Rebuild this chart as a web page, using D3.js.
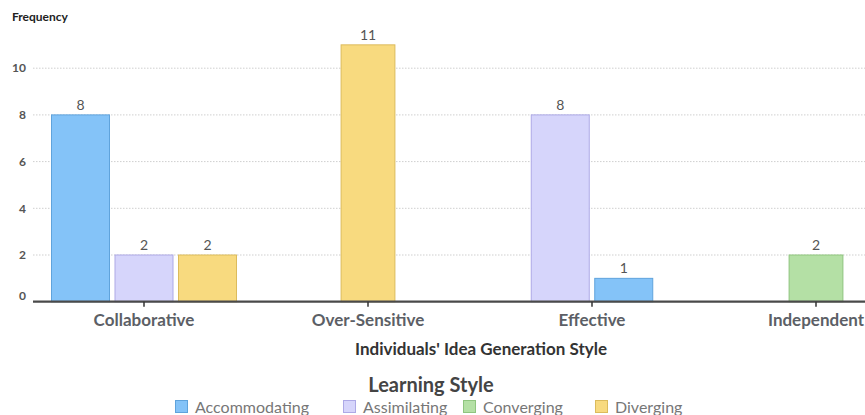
<!DOCTYPE html>
<html>
<head>
<meta charset="utf-8">
<script src="https://cdn.jsdelivr.net/npm/d3@7"></script>
<style>
  html, body { margin: 0; padding: 0; background: #fff; overflow: hidden; }
  svg { display: block; font-family: Lato, "Open Sans", sans-serif; }
</style>
</head>
<body>
<script>
const categories = ["Collaborative", "Over-Sensitive", "Effective", "Independent"];
const seriesNames = ["Accommodating", "Assimilating", "Converging", "Diverging"];
const accommodating = [8, 0, 1, 0];
const assimilating  = [2, 0, 8, 0];
const converging    = [0, 0, 0, 2];
const diverging     = [2, 11, 0, 0];
const yTicks = [0, 2, 4, 6, 8, 10];
const xTitle = "Individuals' Idea Generation Style";
const yTitle = "Frequency";
const legendTitle = "Learning Style";

const seriesValues = [accommodating, assimilating, converging, diverging];
const fills   = ["#84c3f8", "#d6d5fb", "#b4e0a5", "#f8da7f"];
const strokes = ["#5fa3dc", "#ada9e6", "#8fc57f", "#dcbb5c"];

const W = 865, H = 415;
const svg = d3.select("body").append("svg").attr("width", W).attr("height", H);

const x = d3.scaleBand().domain(categories).range([32, 928]).padding(0);
const y = d3.scaleLinear().domain([0, 12]).range([301.7, 301.7 - 12 * 23.35]);

// gridlines
svg.append("g").selectAll("line").data(yTicks.filter(d => d > 0)).join("line")
  .attr("x1", 33).attr("x2", W)
  .attr("y1", d => y(d)).attr("y2", d => y(d))
  .attr("stroke", "#cfcfcf").attr("stroke-width", 1).attr("stroke-dasharray", "1.5,1.5");

// y tick labels
svg.append("g").selectAll("text").data(yTicks).join("text")
  .attr("x", 26).attr("y", d => d === 0 ? y(d) - 6 : y(d))
  .attr("dy", "0.35em").attr("text-anchor", "end")
  .attr("font-size", 12).attr("font-weight", 700).attr("fill", "#555")
  .text(d => d);

svg.append("text").attr("x", 12).attr("y", 21)
  .attr("font-size", 12).attr("font-weight", 700).attr("fill", "#222").text(yTitle);

// bars
const step = 63.5, gap = 4.5;
categories.forEach((cat, ci) => {
  const items = seriesNames.map((s, si) => ({ s, si, v: seriesValues[si][ci] }))
    .filter(d => d.v > 0);
  items.sort((a, b) => b.v - a.v);
  const n = items.length;
  const c = x(cat) + x.bandwidth() / 2;
  const inner = d3.scaleBand().domain(d3.range(n))
    .range([c - (n * step - gap) / 2, c + (n * step - gap) / 2])
    .paddingInner(gap / step).paddingOuter(0);
  const g = svg.append("g");
  g.selectAll("rect").data(items).join("rect")
    .attr("x", (d, i) => inner(i) + 0.5).attr("width", inner.bandwidth() - 1)
    .attr("y", d => y(d.v)).attr("height", d => y(0) - y(d.v))
    .attr("fill", d => fills[d.si]).attr("stroke", d => strokes[d.si]).attr("stroke-width", 1);
  g.selectAll("text").data(items).join("text")
    .attr("x", (d, i) => inner(i) + inner.bandwidth() / 2).attr("y", d => y(d.v) - 5)
    .attr("text-anchor", "middle").attr("font-size", 14).attr("fill", "#555")
    .text(d => d.v);
});

// x axis
const xAxis = svg.append("g").attr("transform", `translate(0,${y(0)})`)
  .call(d3.axisBottom(x).tickSize(5).tickSizeOuter(0).tickPadding(10));
xAxis.select(".domain").attr("stroke", "#4a4a4a").attr("stroke-width", 2.2)
  .attr("d", `M33,0H${W}`);
xAxis.selectAll(".tick line").attr("stroke", "#333").attr("stroke-width", 1.5);
xAxis.selectAll(".tick text").attr("font-size", 17).attr("font-weight", 700)
  .attr("fill", "#5c5f66").attr("font-family", "Lato, sans-serif").attr("y", 12);

svg.append("text").attr("x", 481).attr("y", 355).attr("text-anchor", "middle")
  .attr("font-size", 17).attr("font-weight", 700).attr("fill", "#333").text(xTitle);

// legend
svg.append("text").attr("x", 431).attr("y", 392).attr("text-anchor", "middle")
  .attr("font-size", 20).attr("font-weight", 700).attr("fill", "#444").text(legendTitle);

const legendX = [175, 343, 463, 595];
const lg = svg.append("g");
seriesNames.forEach((s, i) => {
  const lx = legendX[i];
  lg.append("rect").attr("x", lx + 0.5).attr("y", 400.5).attr("width", 12).attr("height", 12)
    .attr("fill", fills[i]).attr("stroke", strokes[i]);
  lg.append("text").attr("x", lx + 20).attr("y", 412.5)
    .attr("font-size", 16).attr("fill", "#777").text(s);
});
</script>
</body>
</html>
